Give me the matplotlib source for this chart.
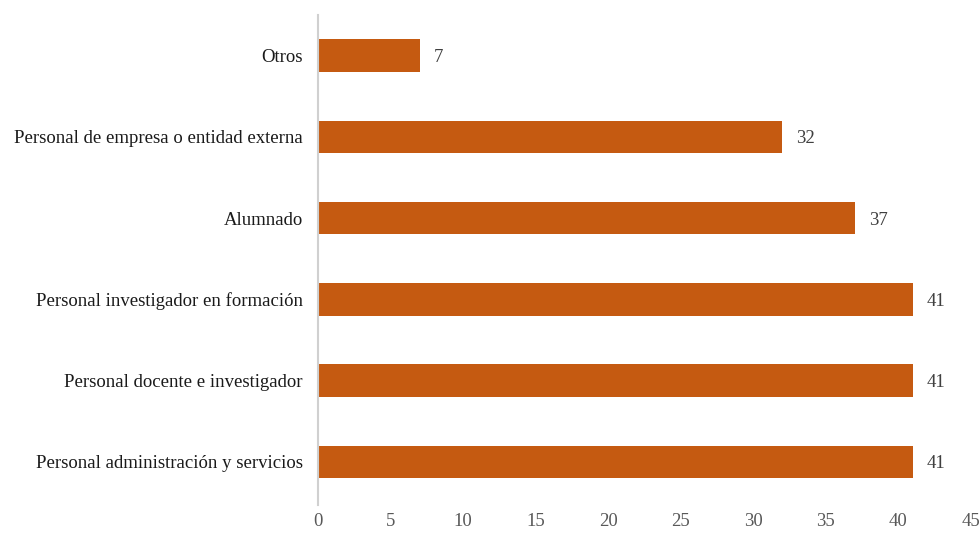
import matplotlib
matplotlib.use("Agg")
import matplotlib.pyplot as plt

categories = ["Personal administración y servicios",
              "Personal docente e investigador",
              "Personal investigador en formación",
              "Alumnado",
              "Personal de empresa o entidad externa",
              "Otros"]
values = [41, 41, 41, 37, 32, 7]
xticks = [0, 5, 10, 15, 20, 25, 30, 35, 40, 45]

plt.rcParams['font.family'] = ['Liberation Serif', 'DejaVu Serif']

fig = plt.figure(figsize=(9.8, 5.34), dpi=100)
ax = fig.add_axes([318/980, 1-505/534, (971-318)/980, 490/534])

y = range(len(categories))
ax.barh(y, values, height=0.40, color='#C55A11')
for yi, v in zip(y, values):
    ax.text(v + 0.95, yi, str(v), va='center_baseline', ha='left', fontsize=13.5, color='#404040')

ax.set_xlim(0, 45)
ax.set_ylim(-0.53, 5.5)
ax.set_xticks(xticks)
ax.set_xticklabels([str(t) for t in xticks], fontsize=13.5, color='#595959')
ax.set_yticks(list(y))
ax.set_yticklabels(categories, fontsize=13.5, color='#1a1a1a')
ax.tick_params(axis='both', length=0)
ax.tick_params(axis='x', pad=6)
ax.tick_params(axis='y', pad=11)
for s in ['top', 'right', 'bottom']:
    ax.spines[s].set_visible(False)
ax.spines['left'].set_color('#d0d0d0')
ax.spines['left'].set_linewidth(1.5)

fig.savefig('out.png', dpi=100)
